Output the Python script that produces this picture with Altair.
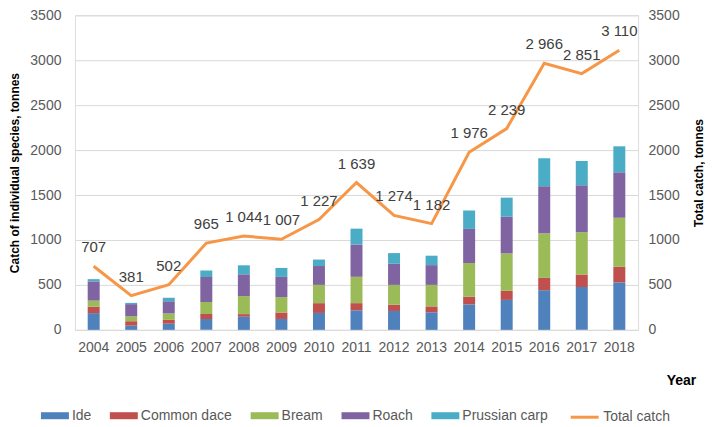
import altair as alt
import pandas as pd

years = [str(y) for y in range(2004, 2019)]
species = ["Ide", "Common dace", "Bream", "Roach", "Prussian carp"]
ide = [186, 46, 68, 121, 146, 121, 188, 217, 210, 195, 283, 333, 441, 477, 528]
dace = [71, 50, 43, 54, 29, 72, 109, 80, 69, 66, 85, 101, 137, 138, 173]
bream = [68, 54, 71, 136, 200, 171, 203, 293, 221, 239, 375, 416, 496, 470, 546]
roach = [214, 136, 136, 278, 243, 225, 210, 359, 235, 220, 380, 408, 524, 524, 506]
prussian = [25, 14, 39, 71, 100, 100, 72, 177, 119, 105, 205, 213, 311, 271, 289]
total = [707, 381, 502, 965, 1044, 1007, 1227, 1639, 1274, 1182, 1976, 2239, 2966, 2851, 3110]

colors = ["#4F81BD", "#C0504D", "#9BBB59", "#8064A2", "#4BACC6"]
line_color = "#F79646"

rows = []
for i, y in enumerate(years):
    for k, (name, vals) in enumerate(zip(species, [ide, dace, bream, roach, prussian])):
        rows.append({"year": y, "species": name, "order": k, "value": vals[i]})
bars_df = pd.DataFrame(rows)
total_df = pd.DataFrame({"year": years, "total": total, "series": "Total catch"})

FONT = "Liberation Sans"
TXT = "#595959"

x_enc = alt.X(
    "year:N",
    scale=alt.Scale(paddingInner=0, paddingOuter=0),
    axis=alt.Axis(
        title="Year", labelAngle=0, ticks=False, domain=False, labelPadding=11,
        labelFontSize=14, labelColor=TXT, labelFont=FONT,
        titleFont=FONT, titleFontSize=14, titleFontWeight="bold", titleColor="#000000",
        titleX=607, titleY=44, titleAlign="center",
    ),
)

bars = alt.Chart(bars_df).mark_bar(size=12).encode(
    x=x_enc,
    y=alt.Y(
        "sum(value):Q",
        stack="zero",
        scale=alt.Scale(domain=[0, 3500]),
        axis=alt.Axis(
            title="Catch of individual species, tonnes", values=list(range(0, 3501, 500)),
            format="d", orient="left", ticks=False, domain=False, grid=True,
            gridColor="#D9D9D9", labelPadding=14, labelFontSize=14, labelColor=TXT,
            labelFont=FONT, titleFont=FONT, titleFontSize=12, titleFontWeight="bold",
            titleColor="#000000", titlePadding=8,
        ),
    ),
    fill=alt.Fill(
        "species:N",
        scale=alt.Scale(domain=species, range=colors),
        legend=alt.Legend(
            title=None, orient="none", direction="horizontal", legendX=-34, legendY=387,
            symbolType="M-1,-0.25H1V0.25H-1Z", symbolSize=784, symbolStrokeWidth=0,
            labelFontSize=14, labelFont=FONT, labelColor=TXT, columnPadding=18,
            labelOffset=3,
        ),
    ),
    order=alt.Order("order:Q", sort="ascending"),
)

right_axis = alt.Axis(
    title="Total catch, tonnes", values=list(range(0, 3501, 500)), format="d",
    orient="right", ticks=False, domain=False, grid=False, labelPadding=10,
    labelFontSize=14, labelColor=TXT, labelFont=FONT, titleFont=FONT,
    titleFontSize=12, titleFontWeight="bold", titleColor="#000000",
    titleAngle=270, titlePadding=26,
)

line = alt.Chart(total_df).mark_line(strokeWidth=3).encode(
    x=alt.X("year:N"),
    y=alt.Y("total:Q", scale=alt.Scale(domain=[0, 3500]), axis=right_axis),
    stroke=alt.Stroke(
        "series:N",
        scale=alt.Scale(domain=["Total catch"], range=[line_color]),
        legend=alt.Legend(
            title=None, orient="none", direction="horizontal", legendX=495, legendY=387,
            symbolType="stroke", symbolSize=784, symbolStrokeWidth=3,
            labelFontSize=14, labelFont=FONT, labelColor=TXT, labelOffset=3,
        ),
    ),
)

labels = alt.Chart(total_df).transform_calculate(
    label="replace(format(datum.total, ','), ',', ' ')"
).mark_text(dy=-19, fontSize=15, font=FONT, color="#404040").encode(
    x=alt.X("year:N"),
    y=alt.Y("total:Q", scale=alt.Scale(domain=[0, 3500]), axis=right_axis),
    text="label:N",
)

right = alt.layer(line, labels)

chart = alt.layer(bars, right).resolve_scale(y="independent").properties(
    width=564, height=315, padding=0
).configure_view(stroke=None).configure(background="white")

chart.save("out.html", embed_options={"renderer": "svg", "actions": False})
